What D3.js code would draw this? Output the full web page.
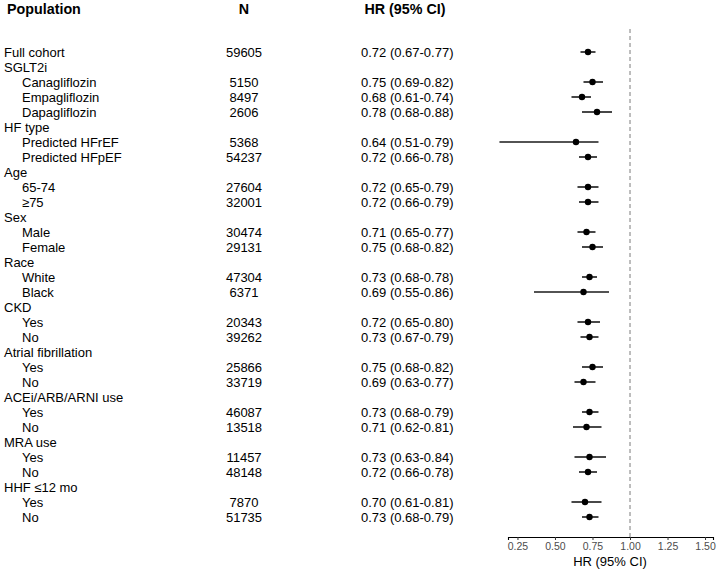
<!DOCTYPE html>
<html>
<head>
<meta charset="utf-8">
<script src="https://cdn.jsdelivr.net/npm/d3@7"></script>
<style>
  body { margin: 0; background: #fff; }
  text { font-family: "Liberation Sans", Arial, sans-serif; }
</style>
</head>
<body>
<div class="canvas"></div>
<script>
// data
const labels = ['Full cohort', 'SGLT2i', 'Canagliflozin', 'Empagliflozin', 'Dapagliflozin',
  'HF type', 'Predicted HFrEF', 'Predicted HFpEF', 'Age', '65-74', '\u226575',
  'Sex', 'Male', 'Female', 'Race', 'White', 'Black', 'CKD', 'Yes', 'No',
  'Atrial fibrillation', 'Yes', 'No', 'ACEi/ARB/ARNI use', 'Yes', 'No',
  'MRA use', 'Yes', 'No', 'HHF \u226412 mo', 'Yes', 'No'];
const subRow = [0, 0, 1, 1, 1, 0, 1, 1, 0, 1, 1, 0, 1, 1, 0, 1, 1, 0, 1, 1,
  0, 1, 1, 0, 1, 1, 0, 1, 1, 0, 1, 1];
const nValues = [59605, null, 5150, 8497, 2606, null, 5368, 54237, null, 27604, 32001,
  null, 30474, 29131, null, 47304, 6371, null, 20343, 39262, null, 25866, 33719,
  null, 46087, 13518, null, 11457, 48148, null, 7870, 51735];
// printed text of the HR column
const hrLabels = ['0.72 (0.67-0.77)', '', '0.75 (0.69-0.82)', '0.68 (0.61-0.74)', '0.78 (0.68-0.88)',
  '', '0.64 (0.51-0.79)', '0.72 (0.66-0.78)', '', '0.72 (0.65-0.79)', '0.72 (0.66-0.79)',
  '', '0.71 (0.65-0.77)', '0.75 (0.68-0.82)', '', '0.73 (0.68-0.78)', '0.69 (0.55-0.86)',
  '', '0.72 (0.65-0.80)', '0.73 (0.67-0.79)', '', '0.75 (0.68-0.82)', '0.69 (0.63-0.77)',
  '', '0.73 (0.68-0.79)', '0.71 (0.62-0.81)', '', '0.73 (0.63-0.84)', '0.72 (0.66-0.78)',
  '', '0.70 (0.61-0.81)', '0.73 (0.68-0.79)'];
// plotted point estimates and interval ends (as drawn)
const hr = [0.72, null, 0.75, 0.68, 0.78, null, 0.64, 0.72, null, 0.72, 0.72,
  null, 0.71, 0.75, null, 0.73, 0.69, null, 0.72, 0.73, null, 0.75, 0.69,
  null, 0.73, 0.71, null, 0.73, 0.72, null, 0.70, 0.73];
const lower = [0.67, null, 0.69, 0.61, 0.68, null, 0.13, 0.66, null, 0.65, 0.66,
  null, 0.65, 0.68, null, 0.68, 0.36, null, 0.65, 0.67, null, 0.68, 0.63,
  null, 0.68, 0.62, null, 0.63, 0.66, null, 0.61, 0.68];
const upper = [0.77, null, 0.82, 0.74, 0.88, null, 0.79, 0.78, null, 0.79, 0.79,
  null, 0.77, 0.82, null, 0.78, 0.86, null, 0.80, 0.79, null, 0.82, 0.77,
  null, 0.79, 0.81, null, 0.84, 0.78, null, 0.81, 0.79];
const xTicks = [0.25, 0.50, 0.75, 1.00, 1.25, 1.50];

const width = 719, height = 573;
const rows = labels.map((d, i) => i);

const svg = d3.select('.canvas').append('svg')
    .attr('width', width)
    .attr('height', height);

// scales
const x = d3.scaleLinear()
    .domain([0.187, 1.553])
    .range([508, 713]);
const y = d3.scalePoint()
    .domain(rows)
    .range([52, 517]);

const fmt = d3.format('.2f');

// column headers
const header = svg.append('g')
    .style('font-weight', 'bold')
    .style('font-size', '14.3px')
    .attr('fill', '#000');
header.append('text').attr('x', 7).attr('y', 14).text('Population');
header.append('text').attr('x', 244).attr('y', 14).attr('text-anchor', 'middle').text('N');
header.append('text').attr('x', 405).attr('y', 14).attr('text-anchor', 'middle').text('HR (95% CI)');

// table text
const table = svg.append('g').style('font-size', '13px').attr('fill', '#000');
table.selectAll('.lab')
  .data(rows)
  .join('text')
    .attr('class', 'lab')
    .attr('x', i => subRow[i] ? 22 : 4)
    .attr('y', i => y(i))
    .attr('dy', '0.35em')
    .text(i => labels[i]);
table.selectAll('.n')
  .data(rows.filter(i => nValues[i] != null))
  .join('text')
    .attr('class', 'n')
    .attr('x', 244)
    .attr('y', i => y(i))
    .attr('dy', '0.35em')
    .attr('text-anchor', 'middle')
    .text(i => nValues[i]);
table.selectAll('.hr')
  .data(rows.filter(i => hrLabels[i] !== ''))
  .join('text')
    .attr('class', 'hr')
    .attr('x', 361)
    .attr('y', i => y(i))
    .attr('dy', '0.35em')
    .text(i => hrLabels[i]);

// reference line at HR = 1
svg.append('line')
    .attr('x1', x(1)).attr('x2', x(1))
    .attr('y1', 29).attr('y2', 537)
    .attr('stroke', '#9a9a9a')
    .attr('stroke-width', 1.3)
    .attr('stroke-dasharray', '4,3');

// CI lines + points
const plotRows = rows.filter(i => hr[i] != null);
svg.append('g').selectAll('line')
  .data(plotRows)
  .join('line')
    .attr('x1', i => x(lower[i]))
    .attr('x2', i => x(upper[i]))
    .attr('y1', i => y(i))
    .attr('y2', i => y(i))
    .attr('stroke', '#1a1a1a')
    .attr('stroke-width', 1.6);
svg.append('g').selectAll('circle')
  .data(plotRows)
  .join('circle')
    .attr('cx', i => x(hr[i]))
    .attr('cy', i => y(i))
    .attr('r', 3.2)
    .attr('fill', '#000');

// x axis
const xAxis = d3.axisBottom(x)
    .tickValues(xTicks)
    .tickFormat(fmt)
    .tickSizeOuter(0)
    .tickSize(3);
const xAxisGroup = svg.append('g')
    .attr('transform', 'translate(0, 537)')
    .call(xAxis);
xAxisGroup.select('.domain').attr('stroke', '#000').attr('stroke-width', 1.1);
xAxisGroup.selectAll('.tick line').attr('stroke', '#333');
xAxisGroup.selectAll('.tick text')
    .attr('fill', '#4d4d4d')
    .style('font-size', '10.5px')
    .style('font-family', '"Liberation Sans", Arial, sans-serif')
    .attr('y', 6);

svg.append('text')
    .attr('x', 610)
    .attr('y', 566)
    .attr('text-anchor', 'middle')
    .style('font-size', '13px')
    .text('HR (95% CI)');
</script>
</body>
</html>
